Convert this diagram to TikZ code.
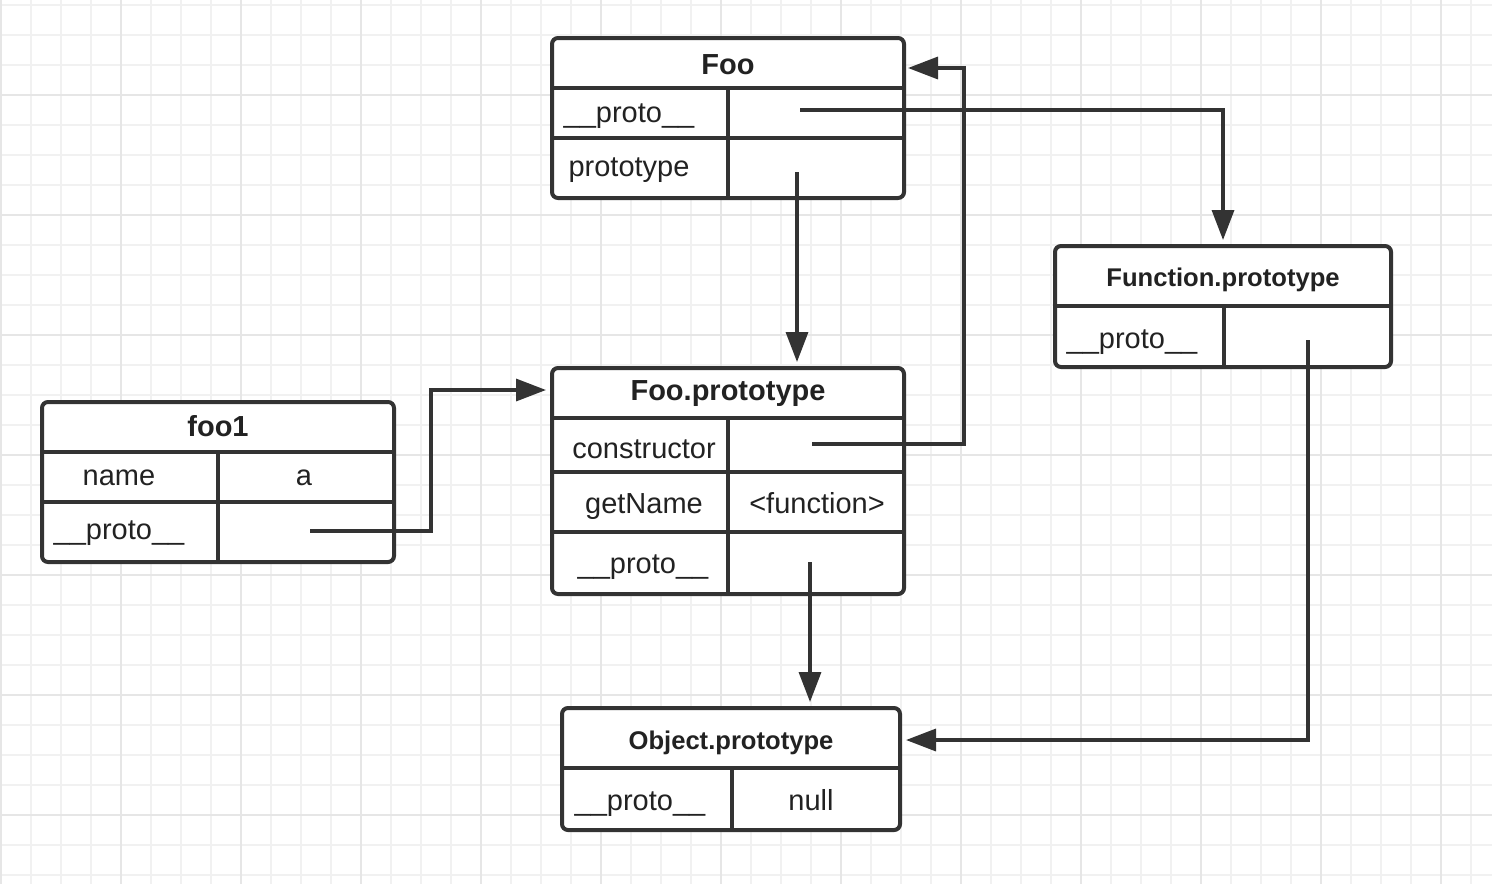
\documentclass[tikz,border=0pt]{standalone}
\usepackage{fontspec}
\setmainfont{Liberation Sans}
\usetikzlibrary{arrows.meta}

\definecolor{linec}{HTML}{333333}
\definecolor{textc}{HTML}{222222}
\definecolor{gridminor}{HTML}{F1F1F1}
\definecolor{gridmajor}{HTML}{E6E6E6}

\tikzset{
  objbox/.style={draw=linec, line width=2pt, rounded corners=3pt, inner sep=0pt, fill=white},
  divider/.style={draw=linec, line width=1.7pt},
  head/.style={text=textc, font=\fontsize{14.5}{17}\selectfont\bfseries, inner sep=0pt, text height=10pt, text depth=0pt},
  smallhead/.style={text=textc, font=\fontsize{12.8}{15}\selectfont\bfseries, inner sep=0pt, text height=9pt, text depth=0pt},
  cell/.style={text=textc, font=\fontsize{14.5}{17}\selectfont, inner sep=0pt, text height=10pt, text depth=0pt},
  link/.style={draw=linec, line width=1.7pt, -{Triangle[length=15pt,width=11pt]}, shorten >=2pt},
}

\begin{document}
\begin{tikzpicture}[x=0.5pt,y=-0.5pt]
  \useasboundingbox (0,0) rectangle (1492,884);
  \fill[white] (0,0) rectangle (1492,884);

  % background grid
  \foreach \x in {1,31,...,1471} \draw[gridminor, line width=1pt] (\x,0) -- (\x,884);
  \foreach \y in {5,35,...,875} \draw[gridminor, line width=1pt] (0,\y) -- (1492,\y);
  \foreach \x in {1,121,...,1441} \draw[gridmajor, line width=1pt] (\x,0) -- (\x,884);
  \foreach \y in {95,215,...,815} \draw[gridmajor, line width=1pt] (0,\y) -- (1492,\y);

  % Foo
  \node[objbox, minimum width=176pt, minimum height=80pt] (foo) at (728,118) {};
  \draw[divider] (552,88) -- (904,88);
  \draw[divider] (552,138) -- (904,138);
  \draw[divider] (728,88) -- (728,198);
  \node[head] (fooHead) at (728,64) {Foo};
  \node[cell] (fooProto) at (629,112) {\_\_proto\_\_};
  \node[cell] (fooType) at (629,166) {prototype};
  \coordinate (fooProtoPtr) at (800,110);
  \coordinate (fooTypePtr) at (797,172);
  \coordinate (fooIn) at (904,68);

  % Function.prototype
  \node[objbox, minimum width=168pt, minimum height=60.5pt] (fn) at (1223,306.5) {};
  \draw[divider] (1055,306) -- (1391,306);
  \draw[divider] (1224,306) -- (1224,367);
  \node[smallhead] (fnHead) at (1223,277) {Function.prototype};
  \node[cell] (fnProto) at (1132,338) {\_\_proto\_\_};
  \coordinate (fnProtoPtr) at (1308,340);

  % Foo.prototype
  \node[objbox, minimum width=176pt, minimum height=113pt] (fp) at (728,481) {};
  \draw[divider] (552,418) -- (904,418);
  \draw[divider] (552,472) -- (904,472);
  \draw[divider] (552,532) -- (904,532);
  \draw[divider] (728,418) -- (728,594);
  \node[head] (fpHead) at (728,390) {Foo.prototype};
  \node[cell] (fpCtor) at (644,448) {constructor};
  \node[cell] (fpName) at (644,503) {getName};
  \node[cell] (fpFunc) at (817,503) {<function>};
  \node[cell] (fpProto) at (643,563) {\_\_proto\_\_};
  \coordinate (fpCtorPtr) at (812,444);
  \coordinate (fpProtoPtr) at (810,562);

  % foo1
  \node[objbox, minimum width=176pt, minimum height=80pt] (foo1) at (218,482) {};
  \draw[divider] (42,452) -- (394,452);
  \draw[divider] (42,502) -- (394,502);
  \draw[divider] (218,452) -- (218,562);
  \node[head] (foo1Head) at (218,426) {foo1};
  \node[cell] (foo1Name) at (119,475) {name};
  \node[cell] (foo1Val) at (304,475) {a};
  \node[cell] (foo1Proto) at (119,529) {\_\_proto\_\_};
  \coordinate (foo1ProtoPtr) at (310,531);

  % Object.prototype
  \node[objbox, minimum width=169pt, minimum height=61pt] (obj) at (731,769) {};
  \draw[divider] (562,768) -- (900,768);
  \draw[divider] (732,768) -- (732,830);
  \node[smallhead] (objHead) at (731,740) {Object.prototype};
  \node[cell] (objProto) at (640,800) {\_\_proto\_\_};
  \node[cell] (objNull) at (811,800) {null};

  % links
  \draw[link] (fooProtoPtr) -| (fn.north);
  \draw[link] (fooTypePtr) -- (fooTypePtr |- fp.north);
  \draw[link] (foo1ProtoPtr) -- ++(121,0) |- (fp.west |- fpHead);
  \draw[link] (fpCtorPtr) -- ++(152,0) |- (fooIn);
  \draw[link] (fpProtoPtr) -- (fpProtoPtr |- obj.north);
  \draw[link] (fnProtoPtr) |- (obj.east |- objHead);

\end{tikzpicture}
\end{document}
